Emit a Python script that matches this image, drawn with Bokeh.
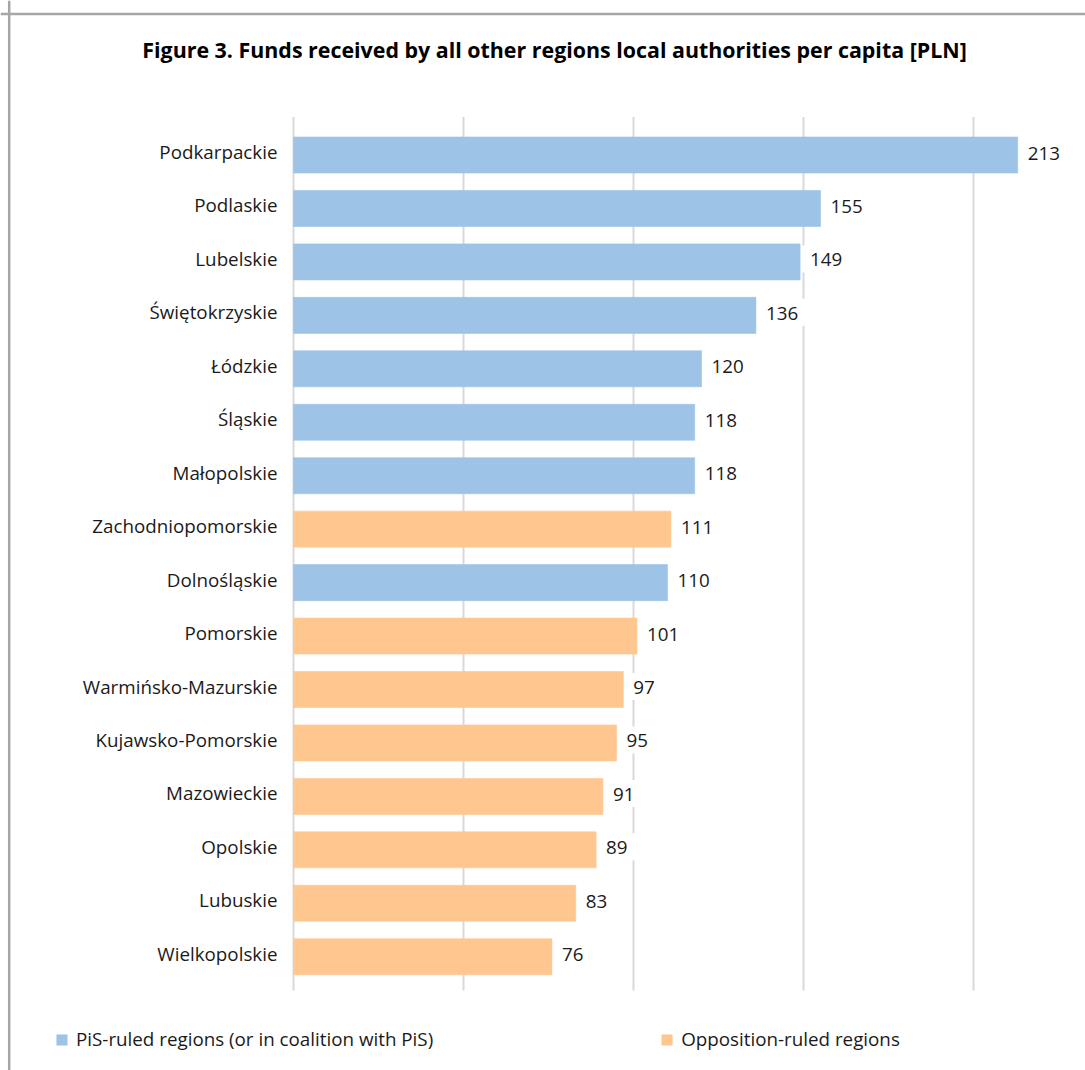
from bokeh.plotting import figure
from bokeh.models import (ColumnDataSource, Range1d, Label, Legend, LegendItem, Span)
from bokeh.core.properties import value
from bokeh.embed import file_html
from bokeh.resources import INLINE

title_text = "Figure 3. Funds received by all other regions local authorities per capita [PLN]"
regions = ["Podkarpackie", "Podlaskie", "Lubelskie", "Świętokrzyskie", "Łódzkie", "Śląskie",
           "Małopolskie", "Zachodniopomorskie", "Dolnośląskie", "Pomorskie", "Warmińsko-Mazurskie",
           "Kujawsko-Pomorskie", "Mazowieckie", "Opolskie", "Lubuskie", "Wielkopolskie"]
funds = [213, 155, 149, 136, 120, 118, 118, 111, 110, 101, 97, 95, 91, 89, 83, 76]
ruling = ["PiS", "PiS", "PiS", "PiS", "PiS", "PiS", "PiS", "Opp", "PiS", "Opp", "Opp",
          "Opp", "Opp", "Opp", "Opp", "Opp"]
grid_ticks = [0, 50, 100, 150, 200]
legend_labels = {"PiS": "PiS-ruled regions (or in coalition with PiS)",
                 "Opp": "Opposition-ruled regions"}
colors = {"PiS": "#9DC3E6", "Opp": "#FFC690"}

FONT = "Open Sans"
W, H = 1085, 1070

p = figure(width=W, height=H, output_backend="svg", toolbar_location=None,
           x_range=Range1d(-86.18, 232.94), y_range=Range1d(17.128, -2.891),
           min_border=0, min_border_left=0, min_border_right=0,
           min_border_top=0, min_border_bottom=0)
p.axis.visible = False
p.xgrid.visible = False
p.ygrid.visible = False
p.outline_line_color = None
p.background_fill_color = "white"
p.border_fill_color = "white"

# vertical gridlines
n = len(regions)
p.segment(x0=grid_ticks, x1=grid_ticks, y0=[-0.71] * len(grid_ticks),
          y1=[n - 1 + 0.63] * len(grid_ticks), line_color="#D9D9D9", line_width=2)

renderers = {}
for key in ["PiS", "Opp"]:
    idx = [i for i in range(n) if ruling[i] == key]
    src = ColumnDataSource(dict(y=idx, right=[funds[i] for i in idx]))
    renderers[key] = p.hbar(y="y", right="right", left=0, height=0.674, source=src,
                            fill_color=colors[key], line_color=colors[key], line_alpha=0.6)

lab_src = ColumnDataSource(dict(y=list(range(n)), name=regions, v=funds,
                                vt=[str(v) for v in funds]))
p.text(x=0, y="y", text="name", source=lab_src, x_offset=-16, y_offset=-3,
       text_align="right", text_baseline="middle", text_font=value(FONT),
       text_font_size="18.8px", text_color="#1a1a1a")
p.text(x="v", y="y", text="vt", source=lab_src, x_offset=2, y_offset=-3,
       text_align="left", text_baseline="middle", text_font=value(FONT),
       text_font_size="18.8px", text_color="#1a1a1a",
       background_fill_color="white", padding=(8, 14, 8, 6))

# frame border (left and top)
p.add_layout(Span(location=8.7, location_units="screen", dimension="height",
                  line_color="#A6A6A6", line_width=2.5))
p.add_layout(Span(location=H - 13.5, location_units="screen", dimension="width",
                  line_color="#A6A6A6", line_width=2.5))

p.add_layout(Label(x=554, y=H - 49, x_units="screen", y_units="screen", text=title_text,
                   text_align="center", text_baseline="middle", text_font=FONT,
                   text_font_style="bold", text_font_size="21.4px", text_color="#000000"))

legend = Legend(items=[LegendItem(label=legend_labels["PiS"], renderers=[renderers["PiS"]]),
                       LegendItem(label=legend_labels["Opp"], renderers=[renderers["Opp"]])],
                orientation="horizontal", location=(55, 18), padding=0, margin=0,
                spacing=227, glyph_width=13, glyph_height=13, label_standoff=8,
                label_text_font=FONT, label_text_font_size="18.8px", label_text_color="#1a1a1a",
                border_line_color=None, background_fill_alpha=0)
p.add_layout(legend, "center")

open("out.html", "w").write(file_html(p, INLINE))
